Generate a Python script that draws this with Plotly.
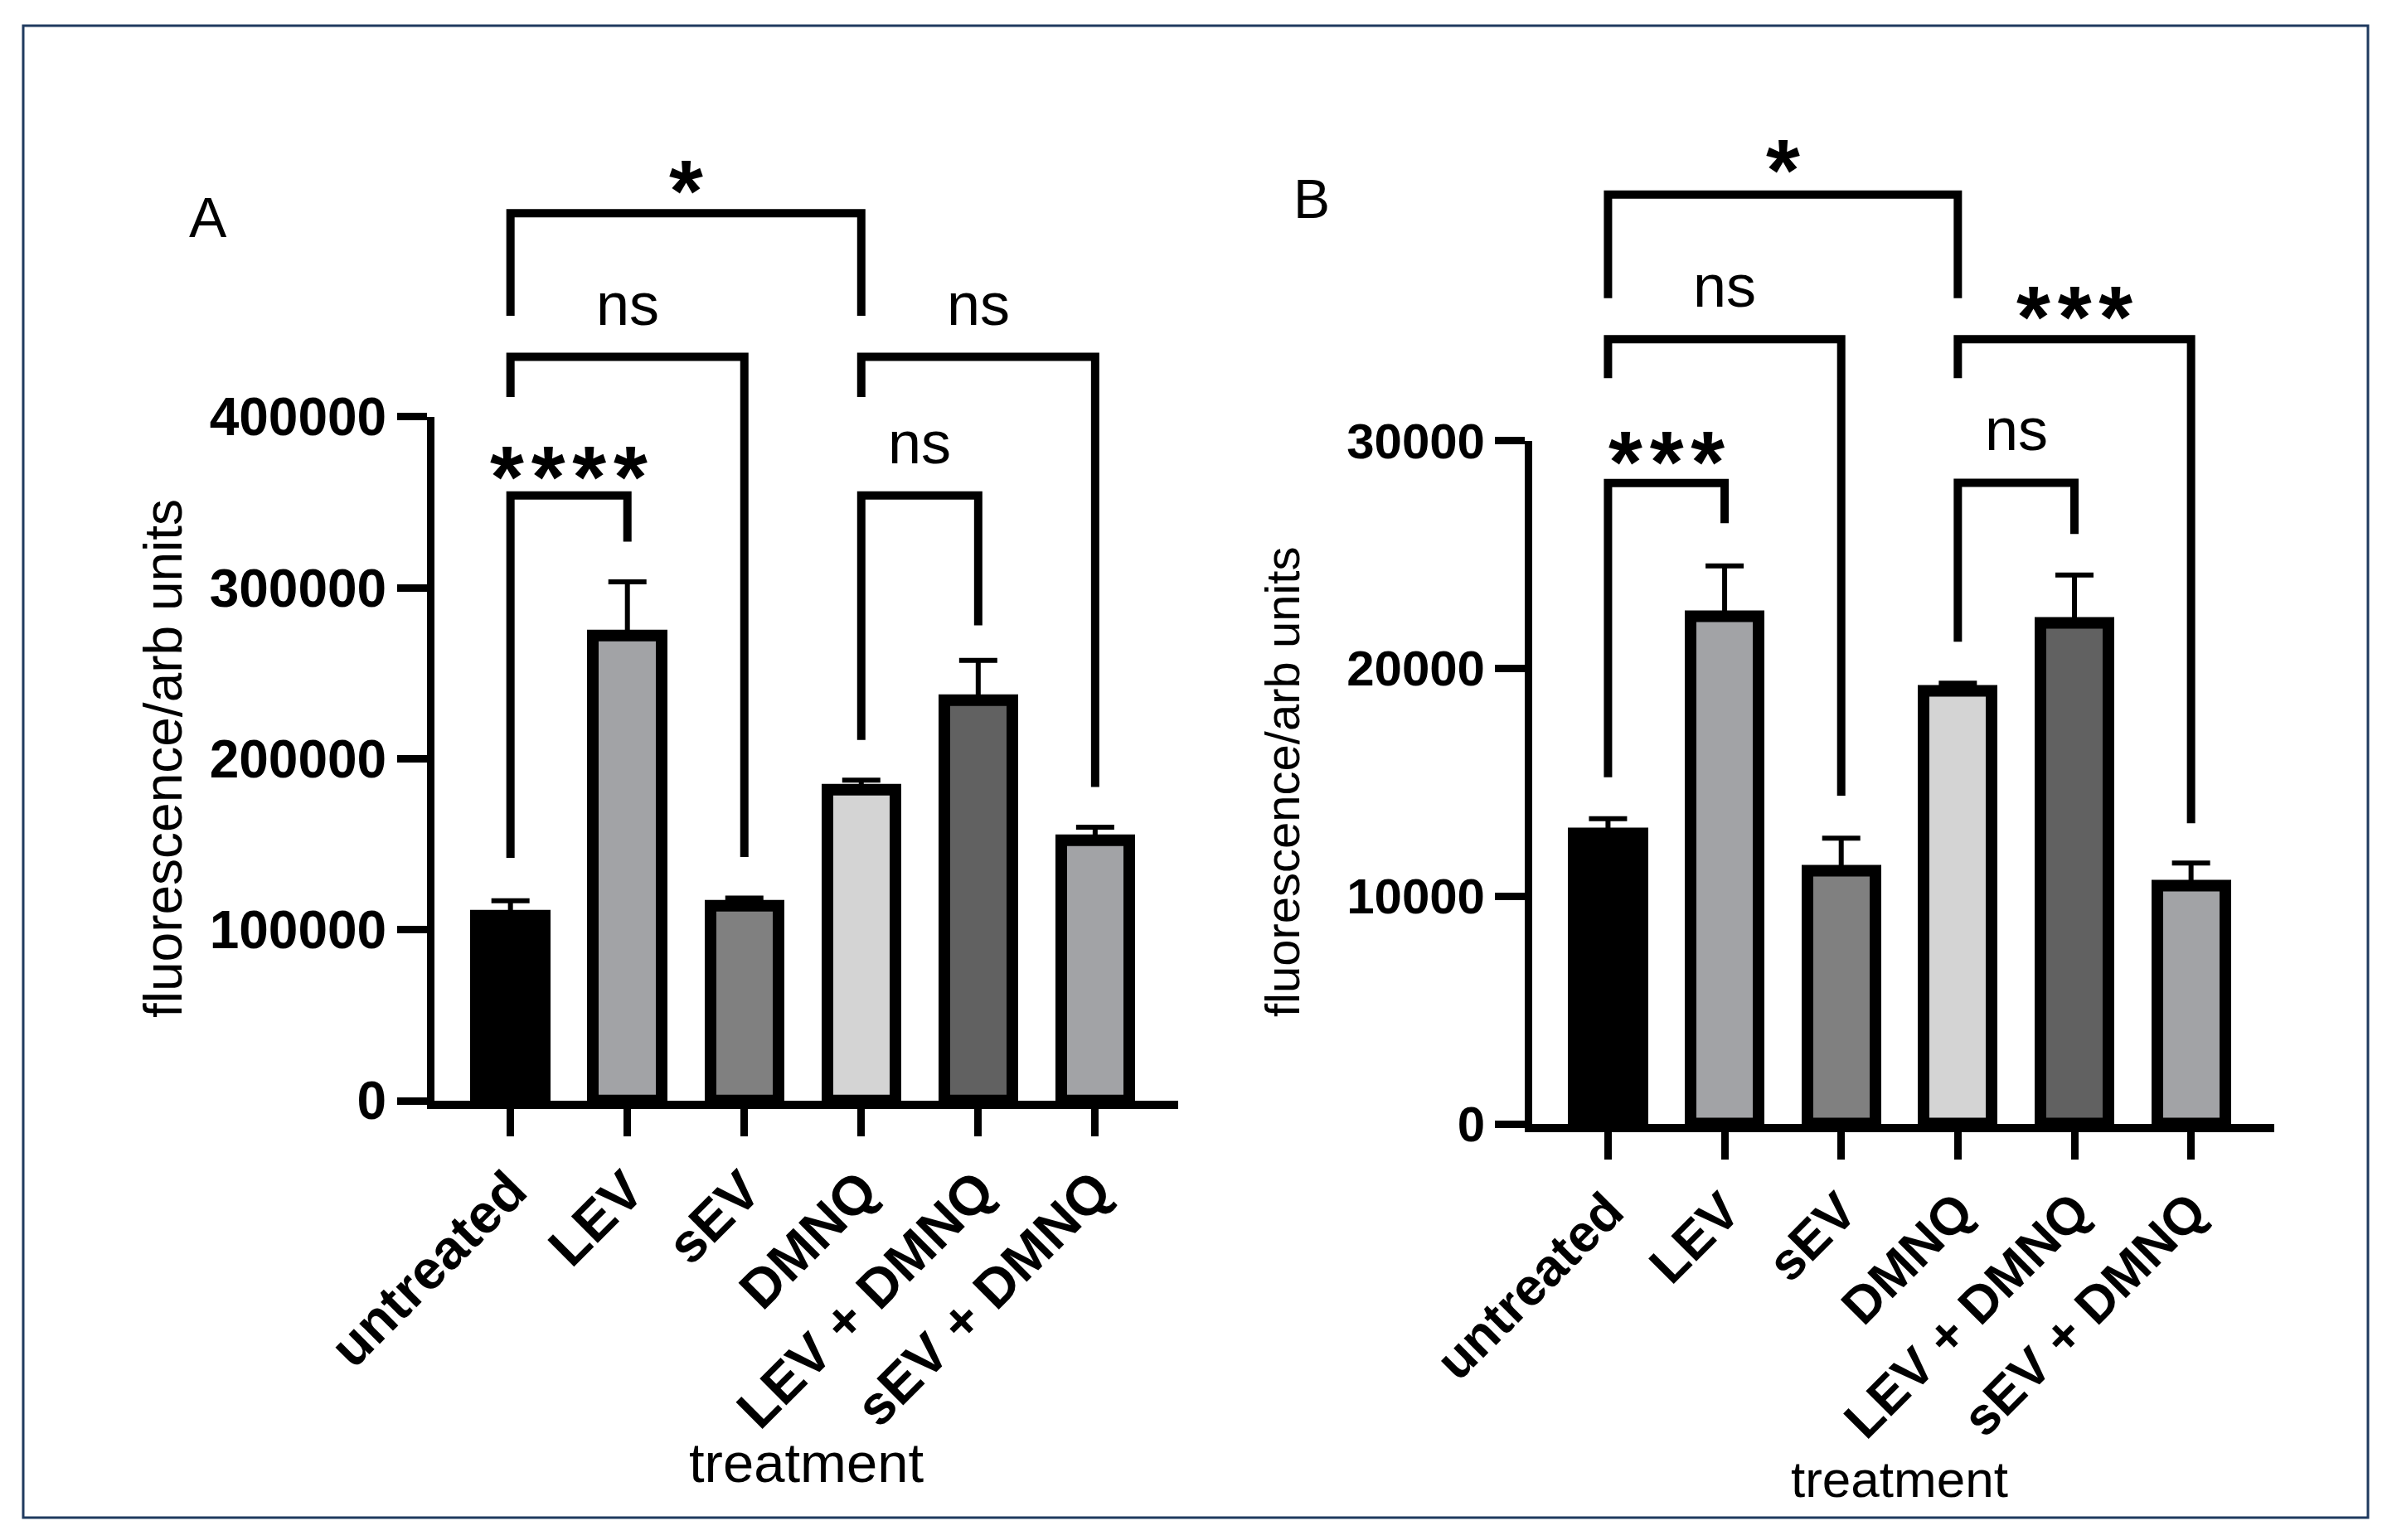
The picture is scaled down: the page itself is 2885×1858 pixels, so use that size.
import plotly.graph_objects as go

# ---------------- data ----------------
categories = ["untreated", "LEV", "sEV", "DMNQ", "LEV + DMNQ", "sEV + DMNQ"]
bar_colors = ["#000000", "#a2a3a6", "#808080", "#d4d4d4", "#616161", "#a2a3a6"]

a_values = [108000, 272000, 114000, 182000, 234000, 152500]
a_err_top = [117000, 303500, 118500, 187500, 257500, 160000]
b_values = [12750, 22300, 11100, 19000, 22000, 10450]
b_err_top = [13400, 24500, 12550, 19350, 24100, 11450]

a_yticks = [0, 100000, 200000, 300000, 400000]
b_yticks = [0, 10000, 20000, 30000]

# brackets: left group, right group, bar height, left leg bottom, right leg bottom
a_br_left = [0, 0, 0, 3, 3]
a_br_right = [1, 2, 3, 4, 5]
a_br_top = [354000, 435000, 519000, 354000, 435000]
a_br_lbot = [142000, 411500, 459000, 211000, 411500]
a_br_rbot = [327000, 142500, 459000, 278000, 183500]
a_br_text = ["****", "ns", "*", "ns", "ns"]
a_br_text_y = [365000, 466000, 532000, 385000, 466000]

b_br_left = [0, 0, 0, 3, 3]
b_br_right = [1, 2, 3, 4, 5]
b_br_top = [28140, 34450, 40800, 28150, 34450]
b_br_lbot = [15220, 32740, 36250, 21170, 32740]
b_br_rbot = [26370, 14410, 36250, 25900, 13200]
b_br_text = ["***", "ns", "*", "ns", "***"]
b_br_text_y = [29040, 36790, 41870, 30490, 35430]

# ---------------- layout constants ----------------
W, H = 2885, 1858
FONT = "Liberation Sans, Arial, sans-serif"
XR = [-0.65, 5.71]

def px_x(p):
    return p / W

def px_y(p):
    return 1 - p / H

a_xdom = [px_x(524), px_x(1421)]
b_xdom = [px_x(1848), px_x(2742.5)]
a_ydom = [px_y(1328), px_y(502.8)]
a_ydom_br = [px_y(1328), px_y(152.1)]
b_ydom = [px_y(1356), px_y(531.6)]
b_ydom_br = [px_y(1356), px_y(119.4)]

fig = go.Figure()

def add_panel(values, err_top, xa, ya):
    fig.add_trace(go.Bar(
        x=list(range(len(categories))), y=values,
        width=0.585,
        marker=dict(color=bar_colors, line=dict(color="black", width=14)),
        error_y=dict(type="data", symmetric=False,
                     array=[e - v for e, v in zip(err_top, values)],
                     arrayminus=[0] * len(values),
                     color="black", thickness=6, width=23),
        xaxis=xa, yaxis=ya, showlegend=False, hoverinfo="skip",
    ))

def add_brackets(lefts, rights, tops, lbots, rbots, xa, ya):
    xs, ys = [], []
    for l, r, t, lb, rb in zip(lefts, rights, tops, lbots, rbots):
        xs += [l, l, r, r, None]
        ys += [lb, t, t, rb, None]
    fig.add_trace(go.Scatter(
        x=xs, y=ys, mode="lines",
        line=dict(color="black", width=10),
        xaxis=xa, yaxis=ya, showlegend=False, hoverinfo="skip",
    ))

add_panel(a_values, a_err_top, "x", "y")
add_panel(b_values, b_err_top, "x2", "y2")
add_brackets(a_br_left, a_br_right, a_br_top, a_br_lbot, a_br_rbot, "x3", "y3")
add_brackets(b_br_left, b_br_right, b_br_top, b_br_lbot, b_br_rbot, "x4", "y4")

def xaxis_cfg(dom, anchor, tick_size):
    return dict(domain=dom, range=XR, anchor=anchor,
                tickmode="array", tickvals=list(range(len(categories))),
                ticktext=categories, tickangle=-45,
                tickfont=dict(family=FONT, size=tick_size, color="black", weight="bold"),
                showline=True, linewidth=10, linecolor="black",
                ticks="outside", ticklen=33, tickwidth=9, tickcolor="black",
                showgrid=False, zeroline=False, automargin=False, fixedrange=True)

def yaxis_cfg(dom, rng, ticks, anchor, tick_size):
    return dict(domain=dom, range=rng, anchor=anchor,
                tickmode="array", tickvals=ticks, ticktext=[str(t) for t in ticks],
                tickfont=dict(family=FONT, size=tick_size, color="black", weight="bold"),
                showline=True, linewidth=9, linecolor="black",
                ticks="outside", ticklen=36, tickwidth=9, tickcolor="black",
                showgrid=False, zeroline=False, automargin=False, fixedrange=True)

hidden = dict(visible=False, showgrid=False, zeroline=False, fixedrange=True)

fig.update_layout(
    width=W, height=H,
    margin=dict(l=0, r=0, t=0, b=0),
    paper_bgcolor="white", plot_bgcolor="rgba(0,0,0,0)",
    bargap=0,
    xaxis=xaxis_cfg(a_xdom, "y", 66),
    yaxis=yaxis_cfg(a_ydom, [0, 400000], a_yticks, "x", 64),
    xaxis2=xaxis_cfg(b_xdom, "y2", 63),
    yaxis2=yaxis_cfg(b_ydom, [0, 30000], b_yticks, "x2", 60),
    xaxis3=dict(domain=a_xdom, range=XR, anchor="y3", **hidden),
    yaxis3=dict(domain=a_ydom_br, range=[0, 570000], anchor="x3", **hidden),
    xaxis4=dict(domain=b_xdom, range=XR, anchor="y4", **hidden),
    yaxis4=dict(domain=b_ydom_br, range=[0, 45000], anchor="x4", **hidden),
)

annotations = []

def add_labels(lefts, rights, texts, ys, xref, yref):
    for l, r, t, y in zip(lefts, rights, texts, ys):
        star = t.startswith("*")
        txt = "\u200a".join(t) if star else t
        annotations.append(dict(
            x=(l + r) / 2, y=y, xref=xref, yref=yref, text=txt, showarrow=False,
            xanchor="center", yanchor="middle",
            font=dict(family=FONT, size=105 if star else 72, color="black",
                      weight="bold" if star else "normal"),
        ))

add_labels(a_br_left, a_br_right, a_br_text, a_br_text_y, "x3", "y3")
add_labels(b_br_left, b_br_right, b_br_text, b_br_text_y, "x4", "y4")

def paper_text(x, y, text, size, angle=0):
    annotations.append(dict(x=px_x(x), y=px_y(y), xref="paper", yref="paper",
                            text=text, showarrow=False, textangle=angle,
                            xanchor="center", yanchor="middle",
                            font=dict(family=FONT, size=size, color="black")))

paper_text(197, 915, "fluorescence/arb units", 64, -90)
paper_text(1546, 944, "fluorescence/arb units", 58, -90)
paper_text(972, 1764, "treatment", 67)
paper_text(2291, 1784, "treatment", 62)
paper_text(251, 262, "A", 68)
paper_text(1582, 240, "B", 66)

fig.update_layout(annotations=annotations)

fig.add_shape(type="rect", xref="paper", yref="paper",
              x0=px_x(28), x1=px_x(2856), y0=px_y(1831), y1=px_y(31),
              line=dict(color="#1f3a5f", width=3), fillcolor="rgba(0,0,0,0)")

fig.write_html("out.html", config={"displayModeBar": False},
               post_script="document.body.style.margin='0';document.body.style.overflow='hidden';")
